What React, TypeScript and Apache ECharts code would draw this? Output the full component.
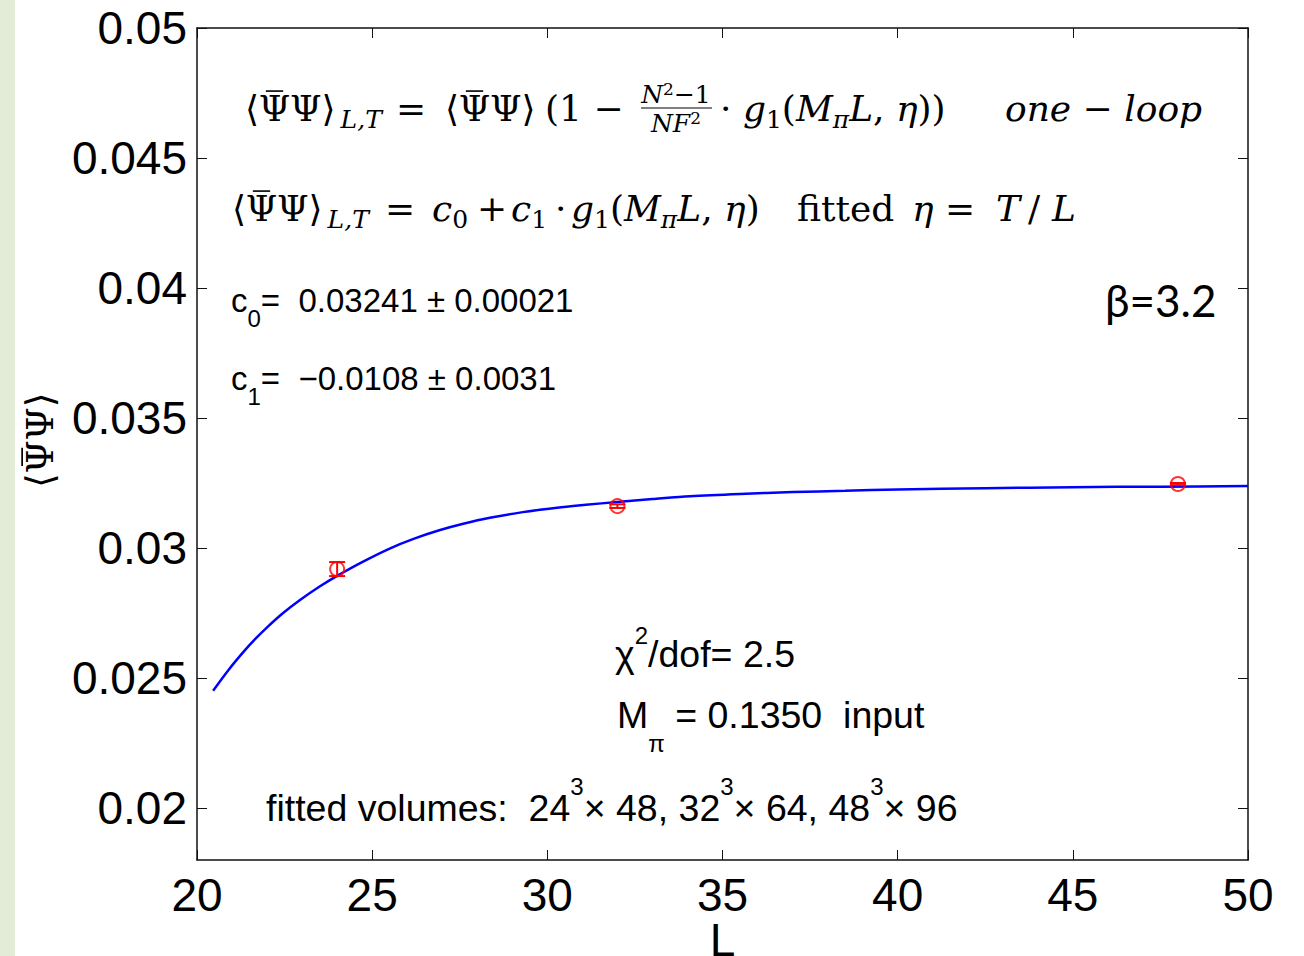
import { useEffect, useRef } from 'react';
import * as echarts from 'echarts';

// Axis ticks
const xTicks = [20, 25, 30, 35, 40, 45, 50];
const yTicks = [0.02, 0.025, 0.03, 0.035, 0.04, 0.045, 0.05];

// Measured condensate with errors at each lattice size L
const pointL = [24, 32, 48];
const pointV = [0.02919, 0.03161, 0.03246];
const pointErr = [0.00027, 0.00007, 0.00004];

// Fitted one-loop curve c0 + c1 * g1(M_pi L, eta), sampled along L
const fitL = [20.46, 20.9, 21.37, 21.7, 22.0, 22.45, 22.94, 23.5, 24.0, 24.7, 25.5, 26.2, 26.94, 27.6, 28.36, 29.3, 30.28, 31.1, 31.99, 33.0, 34.07, 35.5, 37.01, 38.5, 40.01, 42.5, 45.0, 47.5, 50.0];
const fitV = [0.02451, 0.02531, 0.02607, 0.02655, 0.02695, 0.02749, 0.02800, 0.02852, 0.02893, 0.02945, 0.02998, 0.03036, 0.03069, 0.03093, 0.03116, 0.03138, 0.03155, 0.03166, 0.03177, 0.03188, 0.03199, 0.03208, 0.03215, 0.03220, 0.03225, 0.03230, 0.03234, 0.03236, 0.03238];

const SERIF = 'DejaVu Serif, Liberation Serif, serif';
const SANS = 'Liberation Sans, Arial, sans-serif';

function mathRich(size: number, sub: number, lh: number, subLh = sub) {
  const base = { fontFamily: SERIF, fill: '#000' };
  return {
    r: { ...base, fontSize: size, lineHeight: lh },
    i: { ...base, fontSize: size, lineHeight: lh, fontStyle: 'italic' },
    sb: { ...base, fontSize: sub, lineHeight: subLh, verticalAlign: 'bottom' },
    si: { ...base, fontSize: sub, lineHeight: subLh, verticalAlign: 'bottom', fontStyle: 'italic' },
    sp: { ...base, fontSize: sub, lineHeight: subLh, verticalAlign: 'top' },
  };
}

function sansRich(size: number, sub: number, lh: number) {
  const base = { fontFamily: SANS, fill: '#000' };
  return {
    t: { ...base, fontSize: size, lineHeight: lh },
    s: { ...base, fontSize: sub, lineHeight: sub, verticalAlign: 'bottom' },
    p: { ...base, fontSize: sub, lineHeight: sub, verticalAlign: 'top' },
  };
}

// <Psi-bar Psi> built from pieces so the bar over the first Psi is drawn explicitly
function psiPieces(x0: number, y: number, s: number, rich: any, tail: string) {
  const cx = x0 + 0.82 * s;
  return [
    { type: 'text', x: x0, y, style: { text: '{r|⟨}', rich, verticalAlign: 'middle' } },
    { type: 'text', x: cx, y, style: { text: '{r|Ψ}', rich, align: 'center', verticalAlign: 'middle' } },
    {
      type: 'line',
      shape: { x1: cx - 0.24 * s, y1: y - 0.47 * s, x2: cx + 0.24 * s, y2: y - 0.47 * s },
      style: { stroke: '#000', lineWidth: Math.max(1.2, s * 0.045) },
    },
    { type: 'text', x: x0 + 1.25 * s, y, style: { text: `{r|Ψ⟩}${tail}`, rich, verticalAlign: 'middle' } },
  ];
}

// Formula pieces: [left x, rich text]
const formulaOneLoop: [number, string][] = [
  [396, '{r|=}'],
  [545, '{r|(1 −}'],
  [720, '{r|·}{i| g}{sb|1}{r|(}{i|M}{si|π}{i|L}{r|, }{i|η}{r|))}'],
  [1005, '{i|one − loop}'],
];
const formulaFitted: [number, string][] = [
  [385, '{r|=}'],
  [432, '{i|c}{sb|0}'],
  [477, '{r|+}'],
  [511, '{i|c}{sb|1}'],
  [555, '{r|·}'],
  [571, '{i|g}{sb|1}{r|(}{i|M}{si|π}{i|L}{r|, }{i|η}{r|)}'],
  [797, '{r|fitted}'],
  [912, '{i|η}'],
  [945, '{r|=}'],
  [996, '{i|T}'],
  [1028, '{r|/}'],
  [1052, '{i|L}'],
];

export default function App() {
  const ref = useRef<HTMLDivElement>(null);

  useEffect(() => {
    if (!ref.current) return;
    const chart = echarts.init(ref.current, null, { renderer: 'svg' });

    const axisLine = { show: true, onZero: false, lineStyle: { color: '#111', width: 1.5 } };
    const tick = { show: true, inside: true, length: 10, lineStyle: { color: '#111', width: 1 } };
    const labelStyle = { fontSize: 46, color: '#000', fontFamily: SANS };
    const fmtY = (v: number) => String(+v.toFixed(3));

    const S = 36;
    const mr = mathRich(S, 25, 48);
    const fr = mathRich(25, 17, 28, 14);
    const yr = mathRich(38, 26, 48);

    const formulaGraphics = [
      ...psiPieces(245, 108, S, mr, '{si|\u2009L,T}'),
      ...psiPieces(445, 108, S, mr, ''),
      ...formulaOneLoop.map(([x, t]) => ({
        type: 'text', x, y: 108, style: { text: t, rich: mr, verticalAlign: 'middle' },
      })),
      ...psiPieces(232, 208, S, mr, '{si|\u2009L,T}'),
      ...formulaFitted.map(([x, t]) => ({
        type: 'text', x, y: 208, style: { text: t, rich: mr, verticalAlign: 'middle' },
      })),
    ];

    const option: any = {
      animation: false,
      backgroundColor: '#fff',
      grid: { left: 197, right: 56, top: 28, bottom: 96, containLabel: false, outerBoundsMode: 'none' },
      xAxis: [
        {
          type: 'value', min: xTicks[0], max: xTicks[xTicks.length - 1], interval: 5, position: 'bottom',
          axisLine, axisTick: tick,
          axisLabel: { ...labelStyle, margin: 12, formatter: (v: number) => String(v) },
          splitLine: { show: false },
          name: 'L', nameLocation: 'middle', nameGap: 57, nameMoveOverlap: false,
          nameTextStyle: { fontSize: 46, color: '#000', fontFamily: SANS },
        },
        {
          type: 'value', min: xTicks[0], max: xTicks[xTicks.length - 1], interval: 5, position: 'top',
          axisLine, axisTick: tick, axisLabel: { show: false }, splitLine: { show: false },
        },
      ],
      yAxis: [
        {
          type: 'value', min: 0.018, max: 0.05, position: 'left',
          axisLine, axisTick: { ...tick, customValues: yTicks },
          axisLabel: { ...labelStyle, margin: 10, customValues: yTicks, formatter: fmtY },
          splitLine: { show: false },
        },
        {
          type: 'value', min: 0.018, max: 0.05, position: 'right',
          axisLine, axisTick: { ...tick, customValues: yTicks },
          axisLabel: { show: false }, splitLine: { show: false },
        },
      ],
      series: [
        {
          type: 'line',
          data: fitL.map((l, i) => [l, fitV[i]]),
          smooth: 0.3,
          showSymbol: false,
          symbol: 'none',
          lineStyle: { color: '#0000ff', width: 2.5 },
          z: 2,
        },
        {
          type: 'custom',
          data: pointL.map((l, i) => [l, pointV[i], pointErr[i]]),
          renderItem: (_p: any, api: any) => {
            const x = api.value(0);
            const v = api.value(1);
            const e = api.value(2);
            const top = api.coord([x, v + e]);
            const bot = api.coord([x, v - e]);
            const hw = 8;
            const st = { stroke: '#ff0000', lineWidth: 2 };
            return {
              type: 'group',
              children: [
                { type: 'line', shape: { x1: top[0], y1: top[1], x2: bot[0], y2: bot[1] }, style: st },
                { type: 'line', shape: { x1: top[0] - hw, y1: top[1], x2: top[0] + hw, y2: top[1] }, style: st },
                { type: 'line', shape: { x1: bot[0] - hw, y1: bot[1], x2: bot[0] + hw, y2: bot[1] }, style: st },
              ],
            };
          },
          z: 3,
        },
        {
          type: 'scatter',
          data: pointL.map((l, i) => [l, pointV[i]]),
          symbol: 'circle',
          symbolSize: 14,
          itemStyle: { color: 'rgba(255,255,255,0)', borderColor: '#ff0000', borderWidth: 2 },
          z: 4,
        },
      ],
      graphic: [
        { type: 'rect', x: 0, y: 0, shape: { width: 15, height: 956 }, style: { fill: '#e2ecd6' }, z: 0 },
        // y-axis title, reading upwards
        {
          type: 'group', x: 40, y: 441, rotation: Math.PI / 2,
          children: psiPieces(-47, 0, 38, yr, ''),
        },
        ...formulaGraphics,
        // fraction (N^2 - 1) / (N F^2)
        {
          type: 'text', x: 676, y: 94,
          style: { text: '{i|N}{sp|2}{r|−1}', rich: fr, align: 'center', verticalAlign: 'middle' },
        },
        { type: 'line', shape: { x1: 641, y1: 108, x2: 712, y2: 108 }, style: { stroke: '#000', lineWidth: 1.2 } },
        {
          type: 'text', x: 676, y: 123,
          style: { text: '{i|NF}{sp|2}', rich: fr, align: 'center', verticalAlign: 'middle' },
        },
        {
          type: 'text', x: 231, y: 300,
          style: { text: '{t|c}{s|0}{t|=  0.03241 ± 0.00021}', rich: sansRich(33, 24, 60), verticalAlign: 'middle' },
        },
        {
          type: 'text', x: 231, y: 378,
          style: { text: '{t|c}{s|1}{t|=  −0.0108 ± 0.0031}', rich: sansRich(33, 24, 60), verticalAlign: 'middle' },
        },
        {
          type: 'text', x: 1105, y: 300,
          style: { text: 'β=3.2', fontFamily: 'Lato, Open Sans, sans-serif', fontSize: 44, fill: '#000', verticalAlign: 'middle' },
        },
        {
          type: 'text', x: 615, y: 654,
          style: { text: '{t|χ}{p|2}{t|/dof= 2.5}', rich: sansRich(37.5, 24, 62), verticalAlign: 'middle' },
        },
        {
          type: 'text', x: 617, y: 715,
          style: { text: '{t|M}{s|π}{t| = 0.1350  input}', rich: sansRich(37.5, 24, 80), verticalAlign: 'middle' },
        },
        {
          type: 'text', x: 266, y: 808,
          style: {
            text: '{t|fitted volumes:  24}{p|3}{t|× 48, 32}{p|3}{t|× 64, 48}{p|3}{t|× 96}',
            rich: sansRich(37.5, 24, 68), verticalAlign: 'middle',
          },
        },
      ],
    };

    chart.setOption(option);
    return () => chart.dispose();
  }, []);

  return (
    <div
      ref={ref}
      style={{ position: 'fixed', left: 0, top: 0, width: 1304, height: 956, background: '#fff' }}
    />
  );
}
